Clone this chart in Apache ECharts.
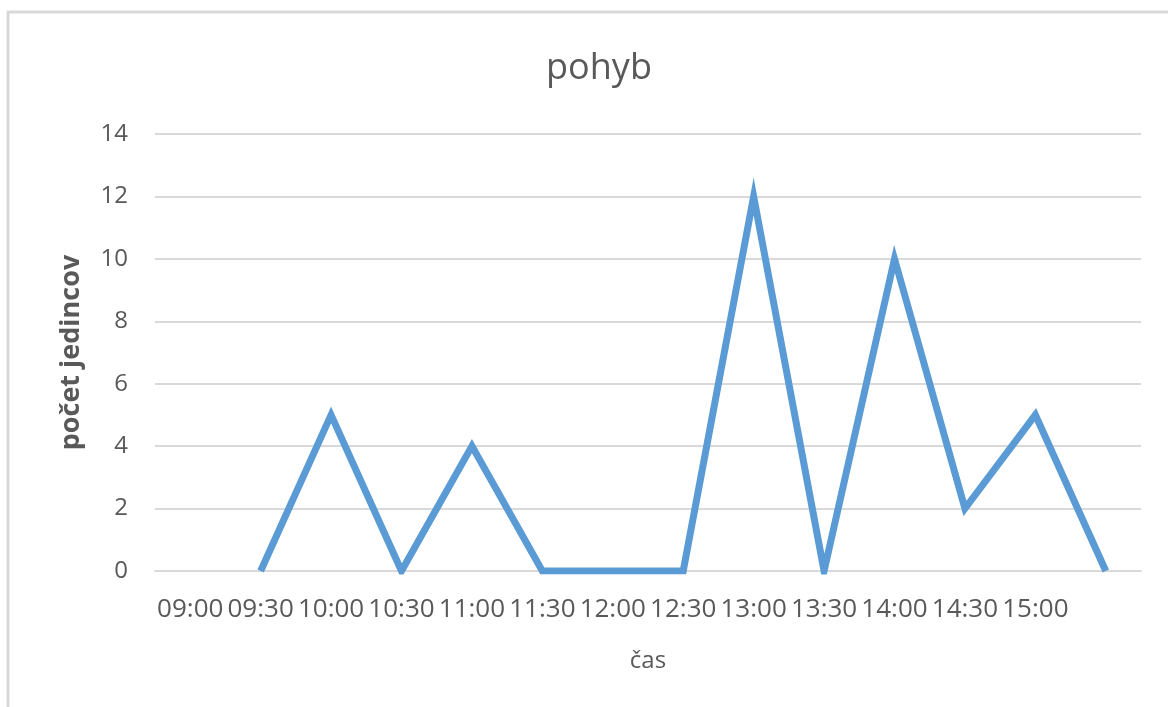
<!DOCTYPE html>
<html>
<head>
<meta charset="utf-8">
<script src="https://cdn.jsdelivr.net/npm/echarts@6/dist/echarts.min.js"></script>
<style>
  html, body { margin: 0; padding: 0; background: #fff; }
  #container { width: 1168px; height: 707px; }
</style>
</head>
<body>
<div id="container"></div>
<script>
var dom = document.getElementById("container");
var myChart = echarts.init(dom);

// kategórie (čas) – posledná kategória nemá popis
var times = ['09:00', '09:30', '10:00', '10:30', '11:00', '11:30', '12:00',
	'12:30', '13:00', '13:30', '14:00', '14:30', '15:00', ''];
// počet jedincov, 09:00 bez hodnoty
var counts = ['-', 0, 5, 0, 4, 0, 0, 0, 12, 0, 10, 2, 5, 0];
var yTicks = [0, 2, 4, 6, 8, 10, 12, 14];

var textColor = '#595959';
var font = '"Open Sans", sans-serif';

var option = {
	animation: false,
	backgroundColor: '#fff',
	title: {
		text: 'pohyb',
		left: 594,
		top: 46,
		textAlign: 'center',
		textStyle: {
			fontFamily: font,
			fontSize: 36,
			fontWeight: 'normal',
			color: textColor
		}
	},
	graphic: [{
		type: 'rect',
		shape: { x: 8, y: 12, width: 1200, height: 760 },
		style: { fill: 'none', stroke: '#d9d9d9', lineWidth: 3 },
		silent: true
	}],
	grid: {
		left: 155,
		right: 27,
		top: 134,
		bottom: 136
	},
	xAxis: {
		type: 'category',
		data: times,
		boundaryGap: true,
		name: 'čas',
		nameLocation: 'middle',
		nameGap: 78,
		nameTextStyle: {
			fontFamily: font,
			fontSize: 24,
			color: textColor
		},
		axisLine: { show: true, lineStyle: { color: '#d9d9d9', width: 2 } },
		axisTick: { show: false },
		axisLabel: {
			interval: 0,
			margin: 26,
			fontFamily: font,
			fontSize: 26,
			color: textColor
		}
	},
	yAxis: {
		type: 'value',
		min: yTicks[0],
		max: yTicks[yTicks.length - 1],
		interval: 2,
		name: 'počet jedincov',
		nameLocation: 'middle',
		nameGap: 70,
		nameTextStyle: {
			fontFamily: font,
			fontSize: 27,
			fontWeight: 'bold',
			color: textColor
		},
		axisLine: { show: false },
		axisTick: { show: false },
		splitLine: { lineStyle: { color: '#d9d9d9', width: 2 } },
		axisLabel: {
			margin: 27,
			fontFamily: font,
			fontSize: 24,
			color: textColor
		}
	},
	series: [{
		type: 'line',
		data: counts,
		showSymbol: false,
		symbol: 'none',
		connectNulls: false,
		lineStyle: {
			color: '#5b9bd5',
			width: 7,
			join: 'miter'
		}
	}]
};

myChart.setOption(option);
</script>
</body>
</html>
